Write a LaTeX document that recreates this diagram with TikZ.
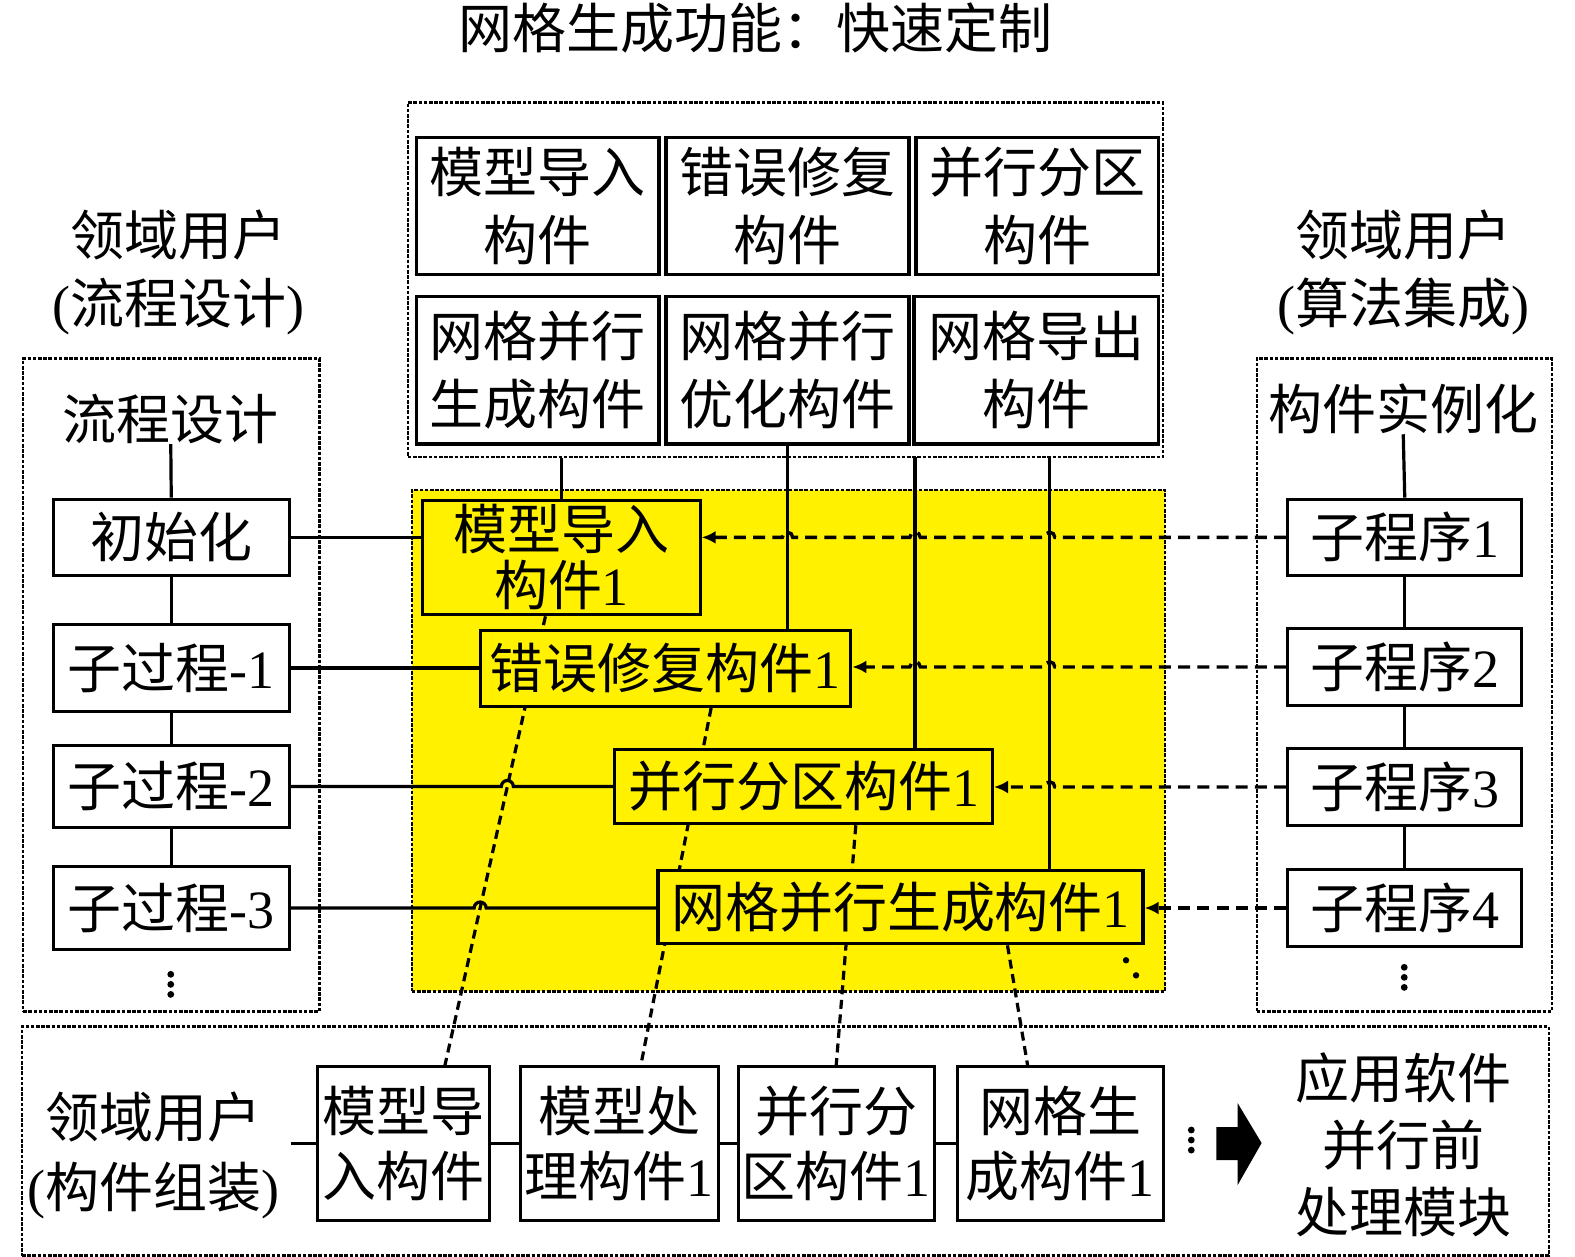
\documentclass[tikz,border=0pt]{standalone}
\usepackage{fontspec}
\setmainfont{Liberation Serif}
\newfontfamily\cjk{Noto Sans CJK SC}
\usetikzlibrary{arrows.meta,calc,intersections}
\definecolor{yel}{RGB}{255,241,0}
\newcommand\tn[1]{{\rmfamily #1}}
\def\u{0.5023pt}
\def\hr{3pt}
\def\hs{2.6pt}
\pgfdeclarelayer{back}
\pgfdeclarelayer{mid}
\pgfsetlayers{back,mid,main}
\begin{document}
\begin{tikzpicture}[x=\u,y=-\u,
  txt/.style={inner sep=0pt,align=center,font=\cjk\fontsize{27}{34}\selectfont},
  lsp/.style={font=\cjk\fontsize{27}{#1}\selectfont},
  sz/.style 2 args={minimum width=#1*\u,minimum height=#2*\u},
  cbox/.style={txt,draw,line width=1.6pt},
  obox/.style={draw,line width=1.1pt,dash pattern=on 1.8pt off 0.8pt,inner sep=0pt},
  conn/.style={line width=1.6pt},
  dline/.style={line width=1.6pt,dash pattern=on 4.5pt off 2.8pt},
  darr/.style={line width=1.7pt,dash pattern=on 6pt off 3.6pt,-{Latex[length=7pt,width=6.5pt]}},
  dotc/.style={fill=black}]
\useasboundingbox (0,0) rectangle (1568,1251);

% title
\node[txt] (title) at (752,28) {网格生成功能：快速定制};

% top library
\node[obox,sz={752}{353}] (lib) at (782,278.5) {};
\node[cbox,sz={241}{136}] (c1) at (535.5,205) {模型导入\\构件};
\node[cbox,sz={242}{136}] (c2) at (784,205) {错误修复\\构件};
\node[cbox,sz={241}{136}] (c3) at (1032.5,205) {并行分区\\构件};
\node[cbox,sz={241}{147}] (c4) at (535.5,368.5) {网格并行\\生成构件};
\node[cbox,sz={242}{147}] (c5) at (784,368.5) {网格并行\\优化构件};
\node[cbox,sz={243}{147}] (c6) at (1031.5,368.5) {网格导出\\构件};

% left column
\node[txt] (luser) at (178,271) {领域用户\\\tn{(}流程设计\tn{)}};
\node[obox,sz={295}{650}] (lbox) at (170.5,682) {};
\node[txt] (flow) at (170,417) {流程设计};
\node[cbox,sz={235}{76}] (init) at (170.5,535) {初始化};
\node[cbox,sz={235}{86}] (s1) at (170.5,665) {子过程\tn{-1}};
\node[cbox,sz={235}{81}] (s2) at (170.5,783) {子过程\tn{-2}};
\node[cbox,sz={235}{83}] (s3) at (170.5,904) {子过程\tn{-3}};
\fill[dotc] (170,970) circle[radius=1.7pt] (170,980) circle[radius=1.7pt] (170,990) circle[radius=1.7pt];

% right column
\node[txt] (ruser) at (1397,271) {领域用户\\\tn{(}算法集成\tn{)}};
\node[obox,sz={294}{650}] (rbox) at (1398,682) {};
\node[txt] (inst) at (1397,407) {构件实例化};
\node[cbox,sz={233}{76}] (r1) at (1398.5,535) {子程序\tn{1}};
\node[cbox,sz={233}{76}] (r2) at (1398.5,664) {子程序\tn{2}};
\node[cbox,sz={233}{77}] (r3) at (1398.5,783.5) {子程序\tn{3}};
\node[cbox,sz={233}{76}] (r4) at (1398.5,904) {子程序\tn{4}};
\fill[dotc] (1398,963) circle[radius=1.7pt] (1398,973) circle[radius=1.7pt] (1398,983) circle[radius=1.7pt];

% yellow area
\begin{pgfonlayer}{back}
\node[obox,fill=yel,sz={750}{499}] (ybg) at (785,737.5) {};
\end{pgfonlayer}
\node[cbox,fill=yel,sz={276}{114},lsp=28] (m1) at (559,555) {模型导入\\构件\tn{1}};
\node[cbox,fill=yel,sz={369}{75}] (e1) at (662.5,665.5) {错误修复构件\tn{1}};
\node[cbox,fill=yel,sz={376}{74}] (p1) at (800,783) {并行分区构件\tn{1}};
\node[cbox,fill=yel,sz={483}{73}] (g1) at (896.5,903) {网格并行生成构件\tn{1}};
\fill[dotc] (1121,956) circle[radius=1.6pt] (1131,971) circle[radius=1.6pt];

% bottom assembly
\node[obox,sz={1520}{228}] (bbox) at (782,1136) {};
\node[txt,lsp=35] (buser) at (153,1150) {领域用户\\\tn{(}构件组装\tn{)}};
\node[cbox,fill=white,sz={171}{153},lsp=32.5] (b1) at (401.5,1138.5) {模型导\\入构件};
\node[cbox,fill=white,sz={197}{153},lsp=32.5] (b2) at (616.5,1138.5) {模型处\\理构件\tn{1}};
\node[cbox,fill=white,sz={195}{153},lsp=32.5] (b3) at (832.5,1138.5) {并行分\\区构件\tn{1}};
\node[cbox,fill=white,sz={205}{153},lsp=32.5] (b4) at (1055.5,1138.5) {网格生\\成构件\tn{1}};
\fill[dotc] (1186,1125) circle[radius=1.7pt] (1186,1135) circle[radius=1.7pt] (1186,1145) circle[radius=1.7pt];
\fill (1211,1122) -- (1232,1122) -- (1232,1098) -- (1256,1138) -- (1232,1180) -- (1232,1155) -- (1211,1155) -- cycle;
\node[txt,lsp=33.5] (app) at (1397,1140) {应用软件\\并行前\\处理模块};

% dashed diagonal links (behind the yellow component boxes)
\begin{pgfonlayer}{mid}
\draw[dline,name path global=dd1] ($(m1.south)+(-16,0)$) -- ($(b1.north)+(41.5,0)$);
\draw[dline] ($(e1.south)+(45.5,0)$) -- ($(b2.north)+(21.5,0)$);
\draw[dline] ($(p1.south)+(52,0)$) -- (b3.north);
\draw[dline] ($(g1.south)+(106.5,0)$) -- ($(b4.north)+(-32.5,0)$);
\end{pgfonlayer}

% hop points on horizontal solid links
\path[name path global=hs2] (s2.east) -- (s2.east -| p1.west);
\path[name intersections={of=dd1 and hs2,by=x2}];
\path[name path global=hs3] (s3.east) -- (s3.east -| g1.west);
\path[name intersections={of=dd1 and hs3,by=x3}];

% left solid links
\draw[conn] (flow.south) -- (init.north);
\draw[conn] (init.south) -- (s1.north);
\draw[conn] (s1.south) -- (s2.north);
\draw[conn] (s2.south) -- (s3.north);
\draw[conn] (init.east) -- (init.east -| m1.west);
\draw[conn] (s1.east) -- (s1.east -| e1.west);
\draw[conn] (s2.east) -- ([xshift=-\hr]x2) arc[start angle=180,end angle=0,radius=\hr] -- (s2.east -| p1.west);
\draw[conn] (s3.east) -- ([xshift=-\hr]x3) arc[start angle=180,end angle=0,radius=\hr] -- (s3.east -| g1.west);

% right solid links
\draw[conn] (inst.south) -- (r1.north);
\draw[conn] (r1.south) -- (r2.north);
\draw[conn] (r2.south) -- (r3.north);
\draw[conn] (r3.south) -- (r4.north);

% vertical links from the library
\coordinate (t3) at (911,455);
\coordinate (t4) at (1045,455);
\draw[conn] (lib.south -| m1.north) -- (m1.north);
\draw[conn] (c5.south) -- (c5.south |- e1.north);
\draw[conn] (t3) -- (t3 |- p1.north);
\draw[conn] (t4) -- (t4 |- g1.north);

% dashed arrows from sub programs
\coordinate (k11) at (t4 |- r1.west);
\coordinate (k12) at (t3 |- r1.west);
\coordinate (k13) at (c5.south |- r1.west);
\coordinate (k21) at (t4 |- r2.west);
\coordinate (k22) at (t3 |- r2.west);
\coordinate (k31) at (t4 |- r3.west);
\draw[darr] (r1.west) -- ([xshift=\hs]k11) arc[start angle=0,end angle=180,radius=\hs]
  -- ([xshift=\hs]k12) arc[start angle=0,end angle=180,radius=\hs]
  -- ([xshift=\hs]k13) arc[start angle=0,end angle=180,radius=\hs]
  -- (r1.west -| m1.east);
\draw[darr] (r2.west) -- ([xshift=\hs]k21) arc[start angle=0,end angle=180,radius=\hs]
  -- ([xshift=\hs]k22) arc[start angle=0,end angle=180,radius=\hs]
  -- (r2.west -| e1.east);
\draw[darr] (r3.west) -- ([xshift=\hs]k31) arc[start angle=0,end angle=180,radius=\hs]
  -- (r3.west -| p1.east);
\draw[darr] (r4.west) -- (r4.west -| g1.east);

% bottom chain
\coordinate (bl) at (290,1138.5);
\draw[conn] (bl) -- (b1.west);
\draw[conn] (b1.east) -- (b2.west);
\draw[conn] (b2.east) -- (b3.west);
\draw[conn] (b3.east) -- (b4.west);
\end{tikzpicture}
\end{document}
